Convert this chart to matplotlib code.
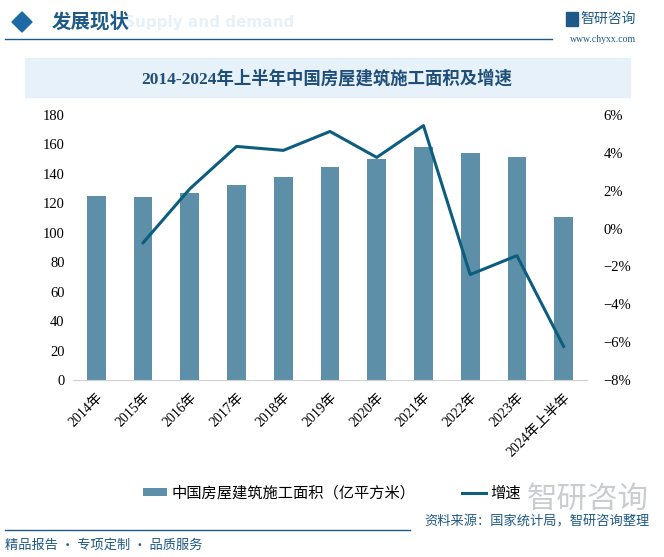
import numpy as np
import matplotlib.pyplot as plt
from matplotlib.patches import Rectangle, Polygon
from matplotlib.lines import Line2D

plt.rcParams['font.family'] = ['Noto Sans CJK SC', 'DejaVu Sans']

# data
years = ['2014年', '2015年', '2016年', '2017年', '2018年', '2019年',
         '2020年', '2021年', '2022年', '2023年', '2024年上半年']
area = [125.0, 124.3, 127.0, 132.5, 137.9, 144.7, 150.1, 158.3, 154.2, 151.5, 110.7]
growth = [np.nan, -0.75, 2.1, 4.34, 4.13, 5.13, 3.76, 5.44, -2.43, -1.43, -6.23]

bar_color = '#5d90a8'
line_color = '#0d5e7e'
tick_font = ['Liberation Serif', 'Noto Sans CJK SC']

fig = plt.figure(figsize=(6.64, 5.57), dpi=100)
W, H = 664, 557

def px(x, y):
    return x / W, 1 - y / H

# header
fig.patches.append(Polygon([px(12, 22), px(22, 12), px(32, 22), px(22, 32)],
                           closed=True, transform=fig.transFigure,
                           color='#1d6aa5', zorder=3))
fig.text(*px(124, 23), 'Supply and demand', fontsize=11, fontweight='bold',
         color='#e8f0f8', ha='left', va='center', family='DejaVu Sans', zorder=1)
fig.text(*px(52, 22), '发展现状', fontsize=14, fontweight='bold', color='#1f5a86',
         ha='left', va='center', zorder=2)
fig.add_artist(Line2D([5 / W, 552 / W], [1 - 39 / H] * 2, color='#1f5a86', lw=1.0))
fig.text(*px(608, 19), '智研咨询', fontsize=10, color='#1f5a86', ha='center', va='center')
fig.patches.append(Rectangle(px(566, 26), 12 / W, 14 / H, transform=fig.transFigure,
                             color='#1f5a86'))
fig.text(*px(603, 39), 'www.chyxx.com', fontsize=7, color='#1f5a86', ha='center',
         va='center', family='Liberation Serif')

# title band
fig.patches.append(Rectangle(px(25, 97), 605 / W, 39 / H, transform=fig.transFigure,
                             color='#e7f1f9', zorder=0))
fig.text(*px(327, 79), '2014-2024年上半年中国房屋建筑施工面积及增速', fontsize=12.5,
         fontweight='bold', color='#1f4e79', ha='center', va='center',
         family=['Liberation Serif', 'Noto Sans CJK SC'])

# plot
ax1 = fig.add_axes([73 / W, 1 - 380 / H, 514 / W, 265 / H])
x = np.arange(len(years))
ax1.bar(x, area, width=0.4, color=bar_color, zorder=2, label='中国房屋建筑施工面积（亿平方米）')
ax1.set_xlim(-0.5, len(years) - 0.5)
ax1.set_ylim(0, 180)
ax1.set_yticks(np.arange(0, 181, 20))
ax1.set_xticks(x)
ax1.set_xticklabels(years, rotation=45, ha='right', rotation_mode='anchor',
                    family=tick_font, fontsize=10)
for lbl in ax1.get_yticklabels():
    lbl.set_family(tick_font)
    lbl.set_fontsize(10.5)
ax1.tick_params(length=0, pad=6)
ax1.tick_params(axis='x', pad=8)
for s in ['top', 'right', 'left']:
    ax1.spines[s].set_visible(False)
ax1.spines['bottom'].set_color('#d0d0d0')
ax1.patch.set_alpha(0)

ax2 = ax1.twinx()
ax2.plot(x, growth, color=line_color, lw=2.2, label='增速', zorder=3)
ax2.set_ylim(-8, 6)
ax2.set_yticks(np.arange(-8, 7, 2))
ax2.set_yticklabels(['−8%', '−6%', '−4%', '−2%', '0%', '2%', '4%', '6%'],
                    family=tick_font, fontsize=10.5)
ax2.tick_params(length=0, pad=12)
for s in ax2.spines.values():
    s.set_visible(False)

# legend
h1, l1 = ax1.get_legend_handles_labels()
h2, l2 = ax2.get_legend_handles_labels()
fig.legend(h1 + h2, l1 + l2, loc='center', bbox_to_anchor=px(332, 493), ncol=2,
           frameon=False, fontsize=11, handlelength=1.6, handleheight=0.5,
           columnspacing=3.0, handletextpad=0.3)

# watermark logo bottom right
fig.text(*px(588, 499), '智研咨询', fontsize=22, color='#c9cdd2', ha='center',
         va='center', zorder=0)

# footer
fig.add_artist(Line2D([5 / W, 410 / W], [1 - 530 / H] * 2, color='#1f5a86', lw=1.0))
fig.text(*px(650, 522), '资料来源：国家统计局，智研咨询整理', fontsize=9.5,
         color='#1f5a86', ha='right', va='center')
fig.text(*px(5, 545), '精品报告 · 专项定制 · 品质服务', fontsize=9.5,
         color='#1f5a86', ha='left', va='center')

fig.savefig('out.png', dpi=100)
